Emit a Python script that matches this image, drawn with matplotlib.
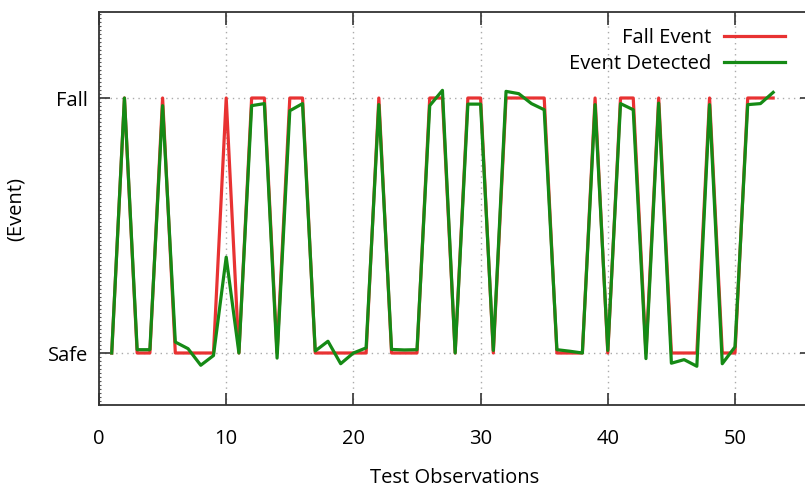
import matplotlib
matplotlib.use("Agg")
import matplotlib.pyplot as plt
from matplotlib.ticker import MultipleLocator

obs = list(range(1, 54))
fall_event = [0, 1, 0, 0, 1, 0, 0, 0, 0, 1, 0, 1, 1, 0, 1, 1, 0, 0, 0, 0, 0, 1, 0, 0, 0, 1, 1,
              0, 1, 1, 0, 1, 1, 1, 1, 0, 0, 0, 1, 0, 1, 1, 0, 1, 0, 0, 0, 1, 0, 0, 1, 1, 1]
event_detected = [0.0, 1.0, 0.013, 0.013, 0.97, 0.043, 0.017, -0.048, -0.01, 0.376, 0.0, 0.97,
                  0.978, -0.02, 0.95, 0.978, 0.008, 0.046, -0.042, 0.0, 0.02, 0.974, 0.014, 0.012,
                  0.013, 0.97, 1.03, 0.0, 0.976, 0.976, 0.01, 1.026, 1.017, 0.978, 0.954, 0.013,
                  0.007, 0.0, 0.974, 0.01, 0.978, 0.954, -0.022, 0.98, -0.04, -0.026, -0.052,
                  0.974, -0.042, 0.024, 0.974, 0.978, 1.022]
x_ticks = [0, 10, 20, 30, 40, 50]
y_ticks = [0, 1]
y_labels = ["Safe", "Fall"]

plt.rcParams['font.family'] = ['Open Sans', 'DejaVu Sans']
FS = 14.5

W, H = 805, 490
fig = plt.figure(figsize=(W / 100, H / 100), dpi=100)
left, right, top, bottom = 99, 811, 12, 405
ax = fig.add_axes([left / W, 1 - bottom / H, (right - left) / W, (bottom - top) / H])

ax.plot(obs, fall_event, color='#e83232', lw=2.3, label='Fall Event')
ax.plot(obs, event_detected, color='#158a15', lw=2.3, label='Event Detected')

ax.set_xlim(0, (right - left) / 12.72)
ax.set_ylim(-(bottom - 353) / 255, 1 + (98 - top) / 255)
ax.set_xticks(x_ticks)
ax.set_yticks(y_ticks)
ax.set_yticklabels(y_labels)
ax.yaxis.set_minor_locator(MultipleLocator(1 / 64))

ax.grid(True, which='major', color='#aaaaaa', linestyle=(0, (1, 3)), linewidth=1.0)
for s in ax.spines.values():
    s.set_color('#333333')
    s.set_linewidth(1.3)

ax.tick_params(axis='x', which='major', direction='in', length=9, width=1.2, top=True,
               labelsize=FS, pad=17, color='#333333')
ax.tick_params(axis='y', which='major', direction='in', length=8, width=1.2, right=True,
               labelsize=FS, pad=8, color='#333333')
ax.tick_params(axis='y', which='minor', direction='in', length=1.5, width=0.8, right=False,
               color='#555555')

ax.set_xlabel('Test Observations', fontsize=FS, labelpad=14)
ax.set_ylabel('(Event)', fontsize=FS, labelpad=16)

leg = ax.legend(loc='upper right', bbox_to_anchor=(785 / W, 1 - 28 / H), bbox_transform=fig.transFigure,
                frameon=False, markerfirst=False, fontsize=FS, handlelength=3.05,
                handletextpad=0.6, labelspacing=0.32, borderaxespad=0, borderpad=0)

fig.savefig('out.png', dpi=100)
